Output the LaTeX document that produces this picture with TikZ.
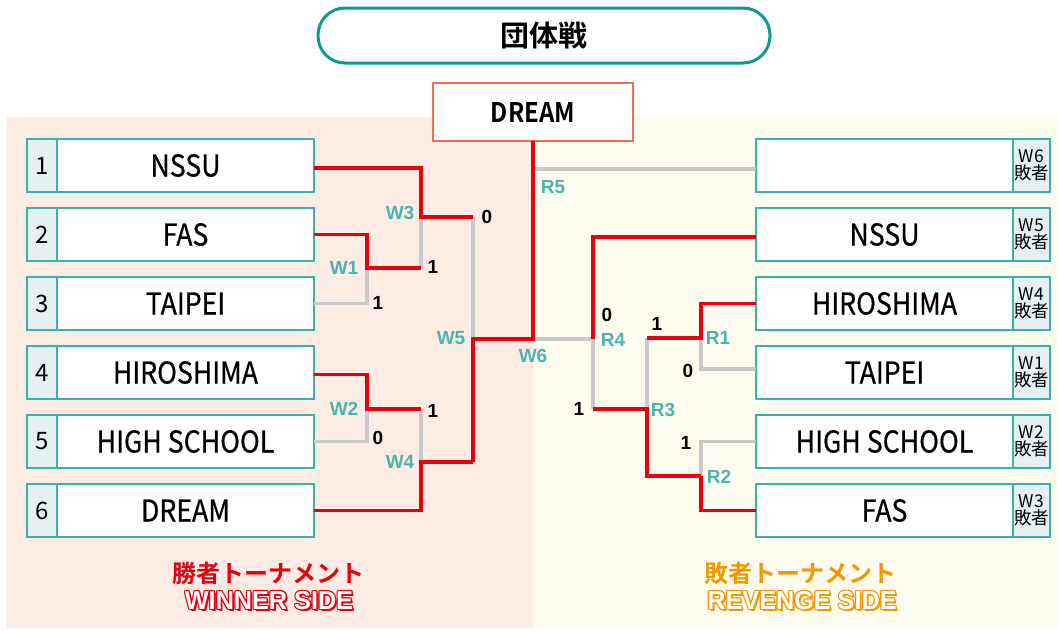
\documentclass[tikz,border=0pt]{standalone}
\usepackage{fontspec}
\usepackage{graphicx}
\setmainfont{Liberation Sans}
\newfontfamily\jp{Noto Sans CJK JP}[BoldFont={Noto Sans CJK JP Bold}]
\newfontfamily\jpn{Noto Sans CJK JP}[FakeBold=0.7]
\definecolor{pinkbg}{HTML}{FCECE4}
\definecolor{creambg}{HTML}{FEFCEE}
\definecolor{tealbox}{HTML}{3EB0AA}
\definecolor{tealtitle}{HTML}{0E9A94}
\definecolor{tealtxt}{HTML}{4AB4AE}
\definecolor{cellfill}{HTML}{E4F1F0}
\definecolor{redl}{HTML}{E60012}
\definecolor{grayl}{HTML}{C9C9C9}
\definecolor{champor}{HTML}{F07048}
\definecolor{orangetxt}{HTML}{F39800}
\newcommand\outtxt[2]{\leavevmode
 \makebox[0pt][l]{\hspace*{2pt}\raisebox{-2pt}{\textcolor{#1}{#2}}}%
 \makebox[0pt][l]{\hspace*{1.2pt}\raisebox{-1.2pt}{\textcolor{#1}{#2}}}%
 \makebox[0pt][l]{\hspace*{1.2pt}\textcolor{#1}{#2}}%
 \makebox[0pt][l]{\hspace*{-1.2pt}\textcolor{#1}{#2}}%
 \makebox[0pt][l]{\raisebox{1.2pt}{\textcolor{#1}{#2}}}%
 \makebox[0pt][l]{\raisebox{-1.2pt}{\textcolor{#1}{#2}}}%
 \makebox[0pt][l]{\hspace*{-0.9pt}\raisebox{0.9pt}{\textcolor{#1}{#2}}}%
 \makebox[0pt][l]{\hspace*{0.9pt}\raisebox{0.9pt}{\textcolor{#1}{#2}}}%
 \makebox[0pt][l]{\hspace*{-0.9pt}\raisebox{-0.9pt}{\textcolor{#1}{#2}}}%
 \textcolor{white}{#2}}
\newcommand\nmtxt[1]{\scalebox{0.89}[1]{#1}}
\newcommand\sidetxt[1]{\scalebox{0.97}[1]{#1}}
\tikzset{
 every node/.style={inner sep=0pt, outer sep=0pt},
 namebox/.style={draw=tealbox, line width=1.2pt, fill=white, minimum width=257pt, minimum height=53pt, font=\jpn\fontsize{30}{30}\selectfont},
 numcell/.style={draw=tealbox, line width=1.2pt, fill=cellfill, minimum width=30pt, minimum height=53pt, font=\jp\fontsize{24}{24}\selectfont},
 losecell/.style={draw=tealbox, line width=1.2pt, fill=cellfill, minimum width=37pt, minimum height=53pt, align=center, font=\jp\fontsize{17.5}{17}\selectfont},
 redline/.style={draw=redl, line width=3.5pt},
 grayline/.style={draw=grayl, line width=3.5pt},
 matchlbl/.style={text=tealtxt, font=\bfseries\fontsize{19}{19}\selectfont},
 scorelbl/.style={text=black, font=\bfseries\fontsize{19}{19}\selectfont},
}
\begin{document}
\begin{tikzpicture}[x=1pt,y=-1pt]
\useasboundingbox (0,0) rectangle (1058,630);
% backgrounds
\fill[pinkbg] (7,117) rectangle (533,628);
\fill[creambg] (533,117) rectangle (1058,628);
% title
\node[draw=tealtitle, line width=3pt, fill=white, rounded corners=27pt, minimum width=452pt, minimum height=55pt, font=\jp\bfseries\fontsize{29}{29}\selectfont] (title) at (544,35.5) {団体戦};
% champion
\node[draw=champor, line width=2.5pt, fill=white, minimum width=200pt, minimum height=58pt, font=\jp\bfseries\fontsize{27}{27}\selectfont] (champ) at (533,112) {\nmtxt{DREAM}};
% left boxes
\foreach \i/\t in {1/NSSU,2/FAS,3/TAIPEI,4/HIROSHIMA,5/HIGH SCHOOL,6/DREAM}{
 \node[namebox] (lt\i) at (185.5,{165.5+69*(\i-1)}) {\nmtxt{\t}};
 \node[numcell] (ln\i) at (42,{165.5+69*(\i-1)}) {\i};
}
% right boxes
\foreach \i/\t/\w in {1//W6,2/NSSU/W5,3/HIROSHIMA/W4,4/TAIPEI/W1,5/HIGH SCHOOL/W2,6/FAS/W3}{
 \node[namebox] (rt\i) at (884.5,{165.5+69*(\i-1)}) {\nmtxt{\t}};
 \node[losecell] (rl\i) at (1031.5,{165.5+69*(\i-1)}) {\w\\敗者};
}
% junctions
\coordinate (J1) at (367,268);
\coordinate (J3) at (421,217);
\coordinate (J2) at (367,409);
\coordinate (J4) at (421,462);
\coordinate (J5) at (473,339);
\coordinate (J6) at (533,339);
\coordinate (R5) at (533,169);
\coordinate (R4) at (593,339);
\coordinate (R3) at (647,409);
\coordinate (R1) at (701,338);
\coordinate (R2) at (701,476);
% gray lines
\draw[grayline] (lt3.east) -| (J1);
\draw[grayline] (J1 -| J3) -- (J3);
\draw[grayline] (lt5.east) -| (J2);
\draw[grayline] (J2 -| J4) -- (J4);
\draw[grayline] (J3 -| J5) -- (J5);
\draw[grayline] (J6) -- (R4);
\draw[grayline] (R5) -- (R5 -| rt1.west);
\draw[grayline] (R3 -| R4) -- (R4);
\draw[grayline] (R1 -| R3) -- (R3);
\draw[grayline] ([yshift=3.5pt]rt4.west) -| (R1);
\draw[grayline] (rt5.west) -| (R2);
% red lines
\draw[redline] (lt2.east) -| (J1) -- (J1 -| J3);
\draw[redline] ([yshift=-2.5pt]lt1.east) -| (J3) -- (J3 -| J5);
\draw[redline] ([yshift=-2pt]lt4.east) -| (J2) -- (J2 -| J4);
\draw[redline] (lt6.east) -| (J4) -- (J4 -| J5);
\draw[redline] (J4 -| J5) -- (J5) -- (J6) -- (champ.south);
\draw[redline] ([yshift=-2.5pt]rt2.west) -| (R4);
\draw[redline] (R2) -- (R2 -| R3) -- (R3) -- (R3 -| R4);
\draw[redline] (rt3.west) -| (R1) -- (R1 -| R3);
\draw[redline] (rt6.west) -| (R2);
% match labels
\node[matchlbl] (lw3) at (400,213) {W3};
\node[matchlbl] (lw1) at (344,268) {W1};
\node[matchlbl] (lw5) at (451,338) {W5};
\node[matchlbl] (lw6) at (533,356) {W6};
\node[matchlbl] (lw2) at (344,409) {W2};
\node[matchlbl] (lw4) at (400,462) {W4};
\node[matchlbl] (lr5) at (553,187) {R5};
\node[matchlbl] (lr4) at (613,340) {R4};
\node[matchlbl] (lr1) at (718,338) {R1};
\node[matchlbl] (lr3) at (663,410) {R3};
\node[matchlbl] (lr2) at (719,477) {R2};
% scores
\node[scorelbl] (s1) at (487,217) {0};
\node[scorelbl] (s2) at (433,267) {1};
\node[scorelbl] (s3) at (378,303) {1};
\node[scorelbl] (s4) at (433,411) {1};
\node[scorelbl] (s5) at (378,438) {0};
\node[scorelbl] (s6) at (607,315) {0};
\node[scorelbl] (s7) at (657,324) {1};
\node[scorelbl] (s8) at (688,371) {0};
\node[scorelbl] (s9) at (579,409) {1};
\node[scorelbl] (s10) at (686,443) {1};
% side titles
\node[text=redl, font=\jp\bfseries\fontsize{24}{24}\selectfont] (wsj) at (268,573) {勝者トーナメント};
\node[font=\bfseries\fontsize{26}{26}\selectfont] (wse) at (269,601) {\sidetxt{\outtxt{redl}{WINNER SIDE}}};
\node[text=orangetxt, font=\jp\bfseries\fontsize{24}{24}\selectfont] (rsj) at (800,573) {敗者トーナメント};
\node[font=\bfseries\fontsize{26}{26}\selectfont] (rse) at (802,601) {\sidetxt{\outtxt{orangetxt}{REVENGE SIDE}}};
\end{tikzpicture}
\end{document}
